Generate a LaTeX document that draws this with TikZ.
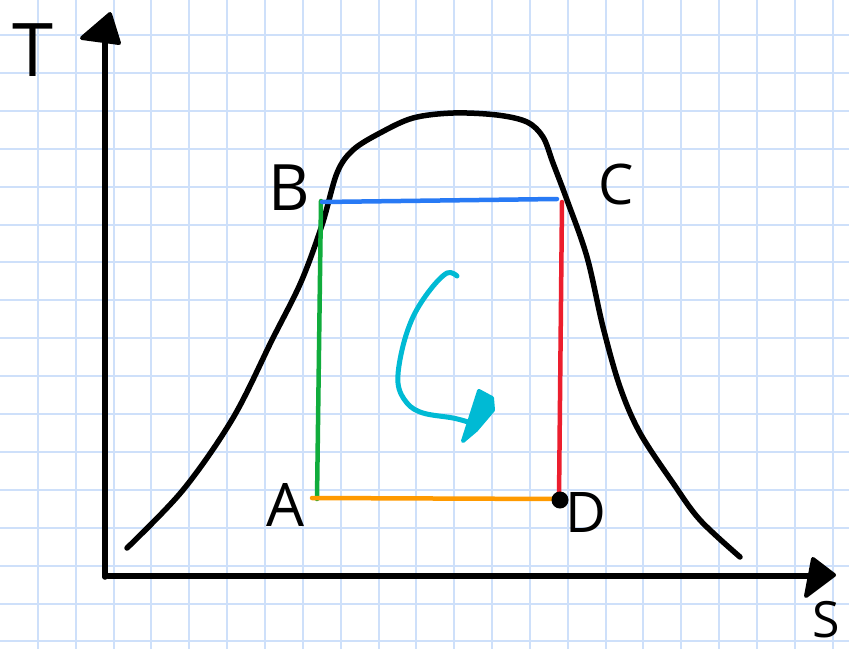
\documentclass[tikz,border=0pt]{standalone}
\usepackage{fontspec}
\setmainfont{Open Sans}
\definecolor{gridc}{RGB}{206,224,250}
\definecolor{cgreen}{RGB}{16,172,60}
\definecolor{cblue}{RGB}{40,122,245}
\definecolor{cred}{RGB}{236,30,46}
\definecolor{corange}{RGB}{255,154,0}
\definecolor{ccyan}{RGB}{0,186,212}
\tikzset{
  gridline/.style={draw=gridc, line width=2pt},
  axisline/.style={draw=black, line width=5.5pt, line cap=round},
  tip/.style={draw=black, fill=black, line width=4pt, line join=round},
  curveline/.style={draw=black, line width=5.5pt, line cap=round, line join=round},
  seg/.style={line width=4.5pt, line cap=round},
  lbl/.style={inner sep=0pt, text=black},
}
\begin{document}
\begin{tikzpicture}[x=1pt,y=-1pt]
\useasboundingbox (0,0) rectangle (849,649);
\fill[white] (0,0) rectangle (849,649);
% grid
\foreach \k in {1,...,22} { \draw[gridline] ({37.85*\k},0) -- ({37.85*\k},649); }
\foreach \k in {0,...,16} { \draw[gridline] (0,{35+37.9*\k}) -- (849,{35+37.9*\k}); }
% axes
\coordinate (origin) at (105,577);
\coordinate (ytop) at (105,40);
\coordinate (xend) at (812,576);
\draw[axisline] (origin) -- (ytop);
\draw[axisline] (108,576) -- (xend);
\draw[tip] (110,14) -- (82,38) -- (119,43) -- cycle;
\draw[tip] (834,575) -- (813,559) -- (806,596) -- cycle;
% labels
\node[lbl, font=\fontsize{74}{74}\selectfont] (T) at (33,50) {T};
\node[lbl, font=\fontsize{50}{50}\selectfont] (S) at (826,620) {S};
\node[lbl, font=\fontsize{64}{64}\selectfont] (B) at (289,188) {B};
\node[lbl, font=\fontsize{56}{56}\selectfont] (C) at (616,184) {C};
\node[lbl, font=\fontsize{60}{60}\selectfont] (A) at (285,505) {A};
\node[lbl, font=\fontsize{56}{56}\selectfont] (D) at (586,513) {D};
% bell curve
\draw[curveline] plot[smooth, tension=0.55] coordinates {
 (127,548) (183,490) (233,418) (272,340) (301,282)
 (322,225) (337,173) (353,150) (380,133) (413,118) (453,113) (497,115)
 (527,122) (543,137) (553,163) (567,200) (587,257) (603,327) (620,387) (640,433)
 (673,483) (700,520) (740,557)};
% cycle points
\coordinate (pA) at (317,499);
\coordinate (pB) at (321,201);
\coordinate (pC) at (560,200);
\coordinate (pD) at (559,499);
\draw[seg, cgreen] (pA) -- (pB);
\draw[seg, cblue] (322,202) -- (557,199);
\draw[seg, cred] (562,202) -- (pD);
\draw[seg, corange] (312,498) -- (pD);
\fill[black] (560,500) circle (8.5);
% cyan arrow
\draw[ccyan, line width=5pt, line cap=round, line join=round]
  plot[smooth, tension=0.6] coordinates {(457,276) (447,273) (430,290) (413,317) (402,350) (398,383) (407,403) (423,413) (453,418) (468,422)};
\draw[ccyan, fill=ccyan, line width=4pt, line join=round, line cap=round]
  (463,441) -- (479,391) -- (492,398) -- (493,410) -- (476,430) -- cycle;
\end{tikzpicture}
\end{document}
